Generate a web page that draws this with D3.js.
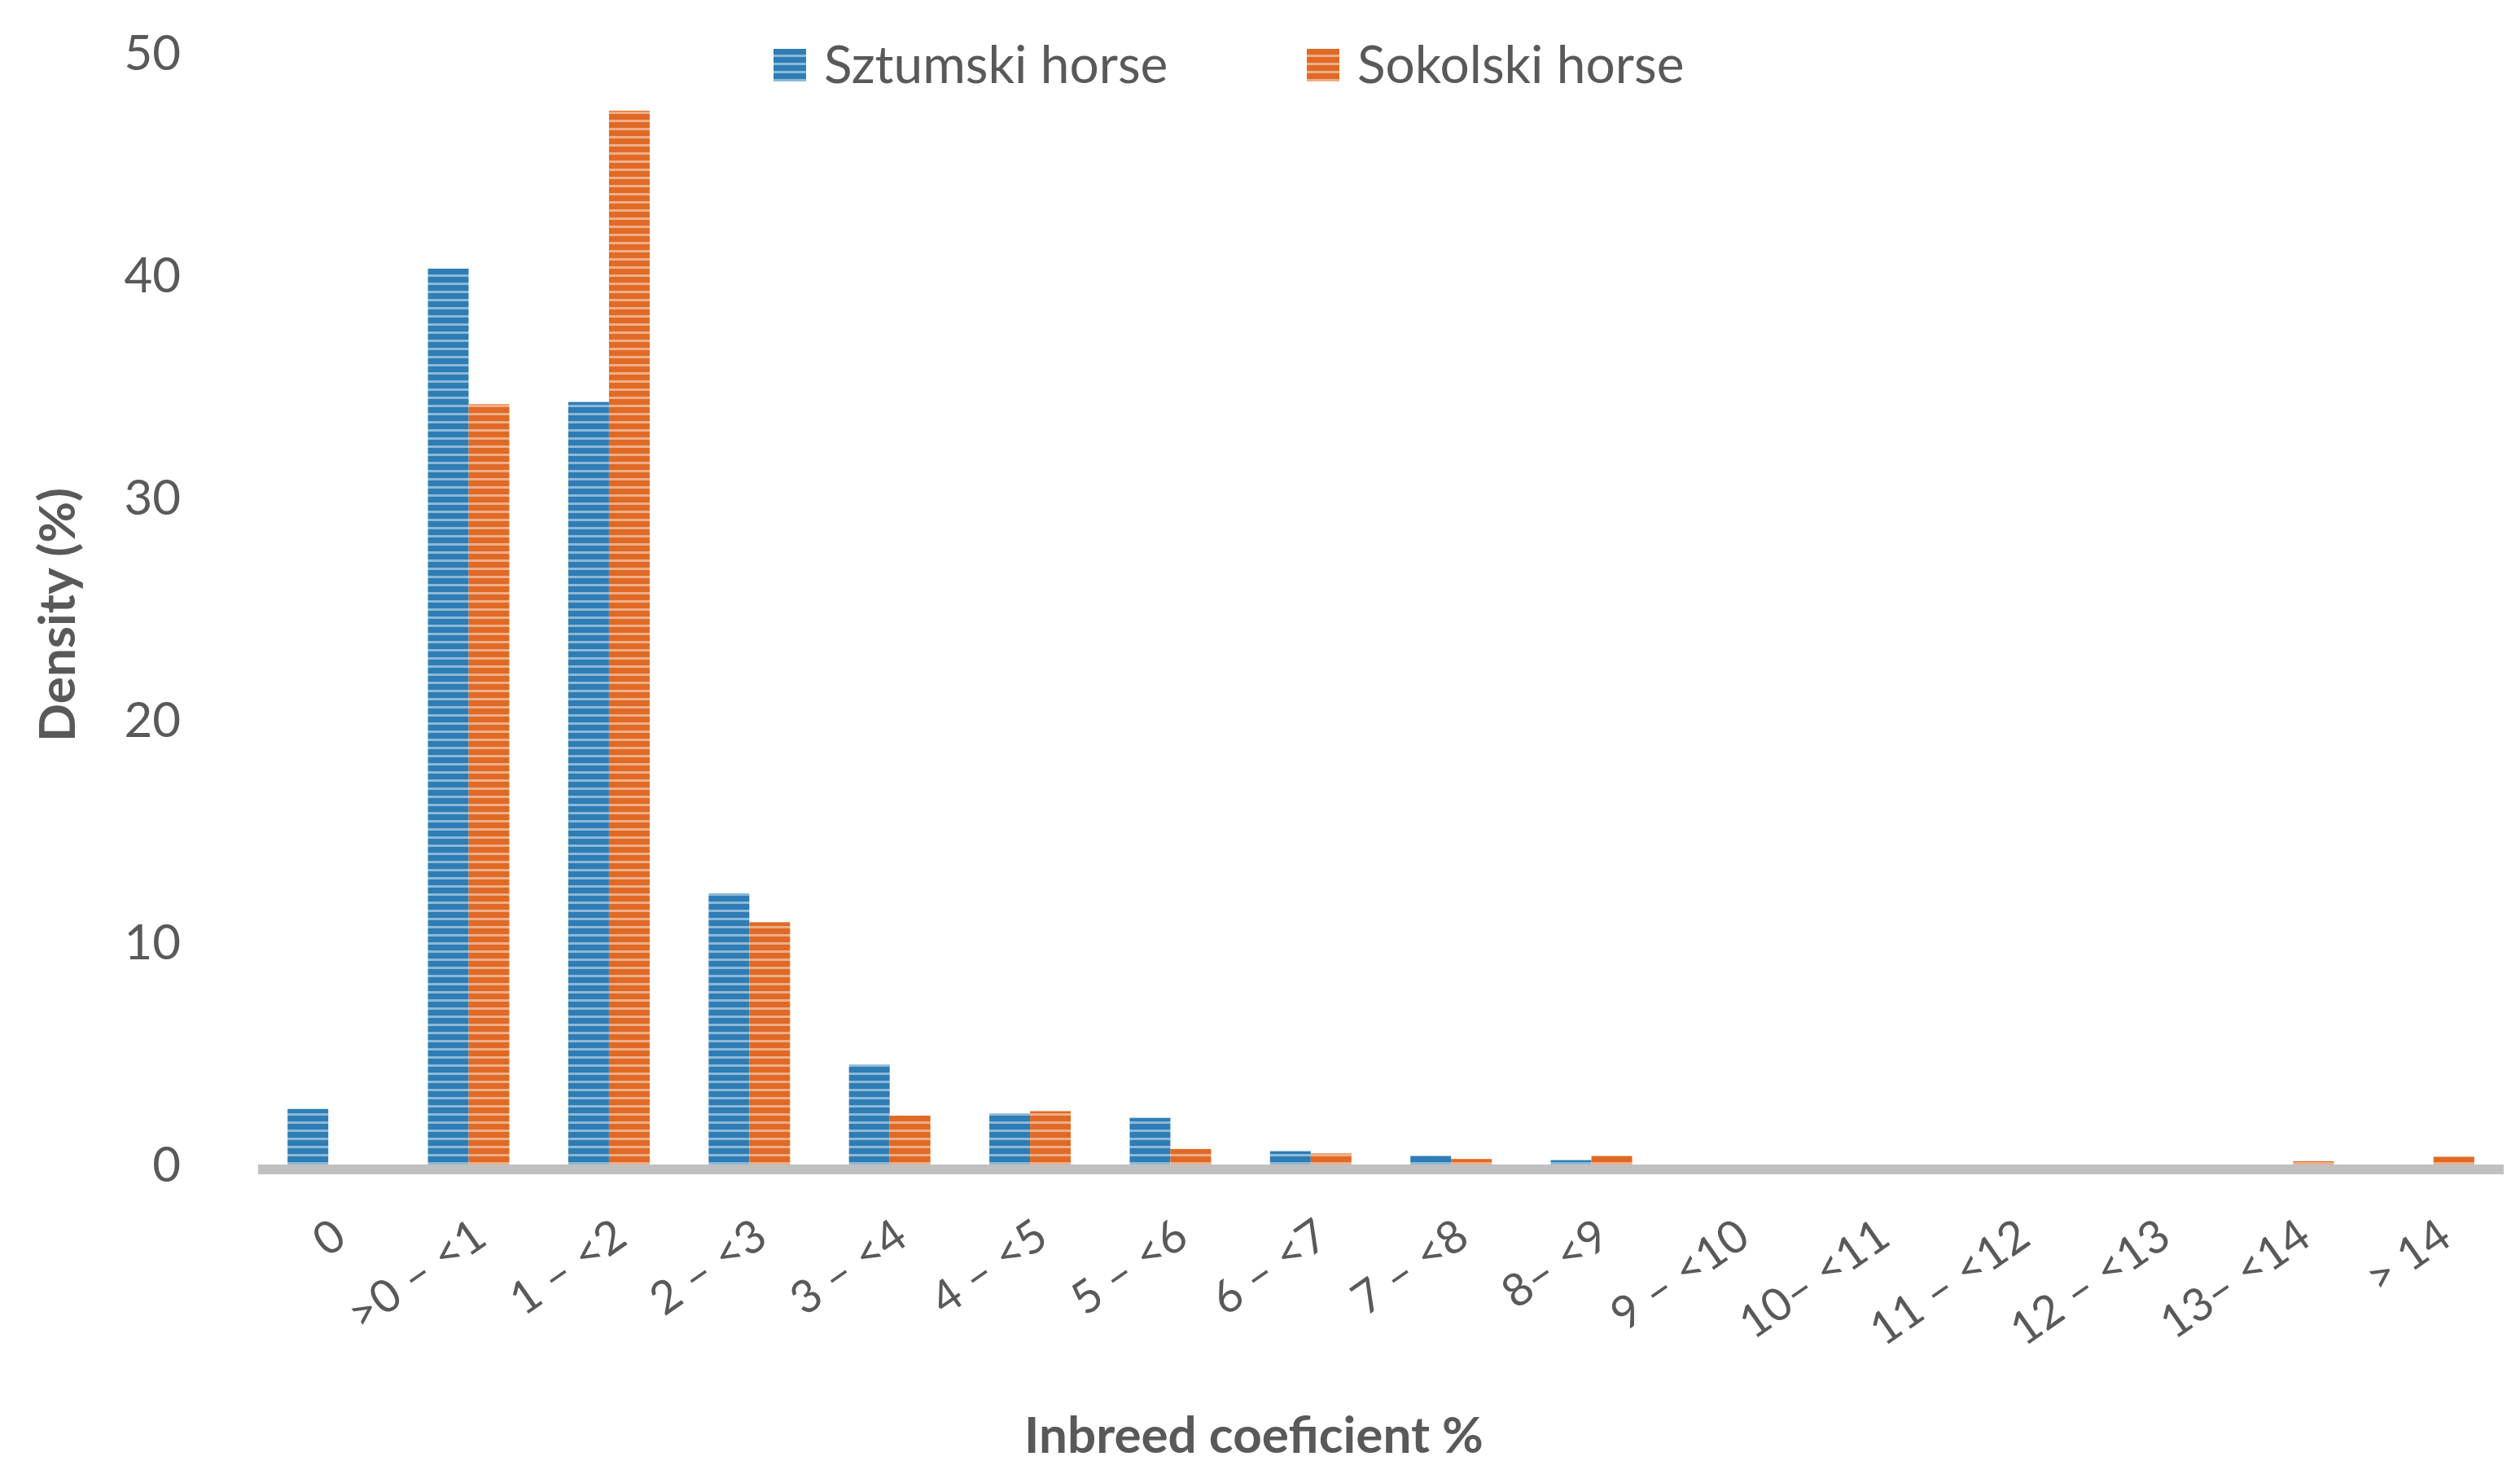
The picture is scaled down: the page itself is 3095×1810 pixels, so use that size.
<!DOCTYPE html>
<html><head><meta charset="utf-8">
<script src="https://cdn.jsdelivr.net/npm/d3@7"></script>
<style>body{margin:0;background:#fff}</style></head>
<body><svg id="c" width="3095" height="1810"></svg>
<script>
const categories = ["0", ">0 – <1", "1 – <2", "2 – <3", "3 – <4", "4 – <5", "5 – <6", "6 – <7", "7 – <8", "8– <9", "9 – <10", "10– <11", "11 – <12", "12 – <13", "13– <14", "> 14"];
const sztumski = [2.5, 40.3, 34.3, 12.2, 4.5, 2.3, 2.1, 0.6, 0.4, 0.2, 0, 0, 0, 0, 0, 0];
const sokolski = [0, 34.2, 47.4, 10.9, 2.2, 2.4, 0.7, 0.5, 0.25, 0.4, 0, 0, 0, 0, 0.15, 0.35];
const seriesNames = ["Sztumski horse", "Sokolski horse"];
const yTicks = [0, 10, 20, 30, 40, 50];

const font = "Lato, 'Open Sans', sans-serif";
const colors = ["#2e7db5", "#e06a25"];
const svg = d3.select("#c");
const defs = svg.append("defs");
colors.forEach((c, i) => {
  const p = defs.append("pattern").attr("id", "p" + i).attr("patternUnits", "userSpaceOnUse")
    .attr("width", 10).attr("height", 10);
  p.append("rect").attr("width", 10).attr("height", 10).attr("fill", c);
  p.append("rect").attr("y", 7).attr("width", 10).attr("height", 3).attr("fill", "#fff").attr("opacity", 0.45);
});

const L = 317, R = 3075, base = 1430, plotTop = 65;
const x = d3.scaleBand().domain(categories).range([L, R]);
const x1 = d3.scaleBand().domain([0, 1]).range([0, 100]);
const y = d3.scaleLinear().domain([0, 50]).range([base, plotTop]);

const data = [sztumski, sokolski];
data.forEach((arr, si) => {
  svg.append("g").selectAll("rect").data(arr).join("rect")
    .attr("x", (d, i) => x(categories[i]) + x.bandwidth() / 2 - 50 + x1(si))
    .attr("width", x1.bandwidth())
    .attr("y", d => y(d)).attr("height", d => base - y(d))
    .attr("fill", `url(#p${si})`);
});

svg.append("line").attr("x1", L).attr("x2", R).attr("y1", base + 6).attr("y2", base + 6)
  .attr("stroke", "#c0c0c0").attr("stroke-width", 12);

svg.append("g").selectAll("text").data(yTicks).join("text")
  .attr("x", 222).attr("y", d => y(d)).attr("dy", "0.35em").attr("text-anchor", "end")
  .attr("font-family", font).attr("font-size", 60).attr("fill", "#595959").text(d => d);

svg.append("g").selectAll("text").data(categories).join("text")
  .attr("transform", d => `translate(${x(d) + x.bandwidth() / 2 + 14},${1510}) rotate(-35)`)
  .attr("text-anchor", "end").attr("dy", "0.35em")
  .attr("font-family", font).attr("font-size", 56).attr("fill", "#595959").text(d => d);

svg.append("text").attr("transform", "translate(70,755) rotate(-90)").attr("text-anchor", "middle")
  .attr("dy", "0.35em").attr("font-family", font).attr("font-weight", "bold").attr("font-size", 62)
  .attr("fill", "#595959").text("Density (%)");
svg.append("text").attr("x", 1540).attr("y", 1762).attr("text-anchor", "middle").attr("dy", "0.35em")
  .attr("font-family", font).attr("font-weight", "bold").attr("font-size", 62)
  .attr("fill", "#595959").text("Inbreed coeficient %");

const lx = [950, 1605];
seriesNames.forEach((n, i) => {
  svg.append("rect").attr("x", lx[i]).attr("y", 60).attr("width", 40).attr("height", 40).attr("fill", `url(#p${i})`);
  svg.append("text").attr("x", lx[i] + 62).attr("y", 80).attr("dy", "0.35em")
    .attr("font-family", font).attr("font-size", 64).attr("fill", "#595959").text(n);
});
</script></body></html>
